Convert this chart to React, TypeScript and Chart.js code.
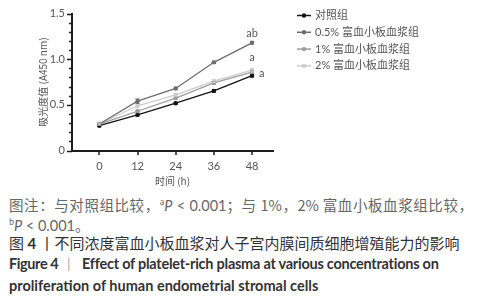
import React, { useEffect, useRef } from 'react';
import { Chart, registerables } from 'chart.js';

Chart.register(...registerables);

const HOURS = [0, 12, 24, 36, 48];
const SERIES_NAMES = ['对照组', '0.5% 富血小板血浆组', '1% 富血小板血浆组', '2% 富血小板血浆组'];
const CONTROL = [0.272, 0.39, 0.518, 0.653, 0.82];
const PRP_05 = [0.29, 0.54, 0.68, 0.966, 1.18];
const PRP_1 = [0.29, 0.43, 0.574, 0.74, 0.86];
const PRP_2 = [0.29, 0.49, 0.61, 0.76, 0.88];
const ERR_CONTROL = [0.01, 0.01, 0.012, 0.015, 0.015];
const ERR_05 = [0.01, 0.025, 0.012, 0.012, 0.012];
const ERR_1 = [0.01, 0.015, 0.012, 0.015, 0.015];
const ERR_2 = [0.01, 0.015, 0.015, 0.015, 0.02];
const SERIES_COLORS = ['#141414', '#6e6e6e', '#9c9c9c', '#cdcdcd'];
const Y_TICKS = [0, 0.5, 1.0, 1.5];
const SIG_LABELS = [
  { series: 1, text: 'ab', side: 'above' },
  { series: 3, text: 'a', side: 'above' },
  { series: 0, text: 'a', side: 'right' },
];

const ALL_VALUES = [CONTROL, PRP_05, PRP_1, PRP_2];
const ALL_ERRORS = [ERR_CONTROL, ERR_05, ERR_1, ERR_2];

const TEXT_GRAY = '#555';
const AXIS_COLOR = '#1e1e1e';
const FONT = 'Lato, "Noto Sans CJK SC", sans-serif';
const CJK_FONT = '"Noto Sans CJK SC", sans-serif';

const decorPlugin = {
  id: 'decor',
  afterDatasetsDraw(chart: any) {
    const ctx = chart.ctx;
    const x = chart.scales.x;
    const y = chart.scales.y;
    const area = chart.chartArea;
    ctx.save();
    // error bars
    chart.data.datasets.forEach((ds: any, di: number) => {
      const meta = chart.getDatasetMeta(di);
      const errs = ALL_ERRORS[di];
      meta.data.forEach((pt: any, i: number) => {
        const v = ds.data[i].y;
        const e = errs[i];
        const px = pt.x;
        const y1 = y.getPixelForValue(v + e);
        const y2 = y.getPixelForValue(v - e);
        ctx.strokeStyle = ds.borderColor;
        ctx.lineWidth = 1;
        ctx.beginPath();
        ctx.moveTo(px, y1);
        ctx.lineTo(px, y2);
        ctx.moveTo(px - 2, y1);
        ctx.lineTo(px + 2, y1);
        ctx.moveTo(px - 2, y2);
        ctx.lineTo(px + 2, y2);
        ctx.stroke();
      });
    });
    // axis ticks
    ctx.strokeStyle = AXIS_COLOR;
    ctx.lineWidth = 1.5;
    for (let k = 0; k <= 15; k++) {
      const v = k / 10;
      const py = Math.round(y.getPixelForValue(v)) + 0.5;
      const len = k % 5 === 0 ? 5 : 3;
      ctx.beginPath();
      ctx.moveTo(area.left - len, py);
      ctx.lineTo(area.left, py);
      ctx.stroke();
    }
    HOURS.forEach((h) => {
      const px = Math.round(x.getPixelForValue(h));
      ctx.beginPath();
      ctx.moveTo(px, area.bottom);
      ctx.lineTo(px, area.bottom + 4.5);
      ctx.stroke();
    });
    // significance labels
    ctx.fillStyle = TEXT_GRAY;
    ctx.font = '11px ' + FONT;
    SIG_LABELS.forEach((s) => {
      const meta = chart.getDatasetMeta(s.series);
      const pt = meta.data[meta.data.length - 1];
      if (s.side === 'above') {
        ctx.textAlign = 'center';
        ctx.textBaseline = 'middle';
        ctx.fillText(s.text, pt.x, pt.y - (s.series === 1 ? 9 : 12.5));
      } else {
        ctx.textAlign = 'left';
        ctx.textBaseline = 'middle';
        ctx.fillText(s.text, pt.x + 7, pt.y - 2);
      }
    });
    // legend
    const lx = 297;
    const rowY0 = 15.5;
    const step = 16.8;
    chart.data.datasets.forEach((ds: any, di: number) => {
      const ry = rowY0 + di * step;
      ctx.strokeStyle = ds.borderColor;
      ctx.fillStyle = ds.borderColor;
      ctx.lineWidth = 1.5;
      ctx.beginPath();
      ctx.moveTo(lx, ry);
      ctx.lineTo(lx + 14, ry);
      ctx.stroke();
      ctx.beginPath();
      ctx.arc(lx + 7, ry, 2.2, 0, Math.PI * 2);
      ctx.fill();
      ctx.fillStyle = TEXT_GRAY;
      ctx.font = '11px ' + FONT;
      ctx.textAlign = 'left';
      ctx.textBaseline = 'middle';
      ctx.fillText(ds.label, lx + 18, ry);
    });
    ctx.restore();
  },
};

function ChartView() {
  const ref = useRef<HTMLCanvasElement>(null);
  useEffect(() => {
    const datasets = ALL_VALUES.map((vals, di) => ({
      label: SERIES_NAMES[di],
      data: HOURS.map((h, i) => ({ x: h, y: vals[i] })),
      borderColor: SERIES_COLORS[di],
      backgroundColor: SERIES_COLORS[di],
      borderWidth: 1.3,
      pointRadius: 2.2,
      pointHoverRadius: 2.2,
      pointBorderWidth: 0,
      tension: 0,
      order: di,
    }));
    const chart = new Chart(ref.current as HTMLCanvasElement, {
      type: 'line',
      data: { datasets: datasets as any },
      options: {
        animation: false,
        responsive: false,
        devicePixelRatio: 1,
        layout: { padding: { left: 0, top: 10, right: 216, bottom: 0 } },
        plugins: { legend: { display: false }, tooltip: { enabled: false } },
        scales: {
          x: {
            type: 'linear',
            min: -8.6,
            max: 54.6,
            afterBuildTicks: (s: any) => {
              s.ticks = HOURS.map((h) => ({ value: h }));
            },
            afterFit: (s: any) => {
              s.height = 39.5;
            },
            grid: { display: false, drawTicks: false, tickLength: 0 },
            border: { display: true, color: AXIS_COLOR, width: 2 },
            ticks: {
              color: TEXT_GRAY,
              font: { family: FONT, size: 11 },
              padding: 9,
              maxRotation: 0,
              callback: (v: any) => String(v),
            },
            title: {
              display: true,
              text: '时间 (h)',
              color: TEXT_GRAY,
              font: { family: CJK_FONT, size: 10 },
              padding: { top: 0, bottom: 3 },
            },
          },
          y: {
            type: 'linear',
            min: 0,
            max: 1.5,
            afterBuildTicks: (s: any) => {
              s.ticks = Y_TICKS.map((v) => ({ value: v }));
            },
            afterFit: (s: any) => {
              s.width = 72;
            },
            grid: { display: false, drawTicks: false, tickLength: 0 },
            border: { display: true, color: AXIS_COLOR, width: 2 },
            ticks: {
              color: TEXT_GRAY,
              font: { family: FONT, size: 11 },
              padding: 7,
              callback: (v: any) => (v === 0 ? '0' : Number(v).toFixed(1)),
            },
            title: {
              display: true,
              text: '吸光度值 (A450 nm)',
              color: TEXT_GRAY,
              font: { family: CJK_FONT, size: 10 },
              padding: { top: 37, bottom: 0 },
            },
          },
        },
      },
      plugins: [decorPlugin],
    });
    return () => chart.destroy();
  }, []);
  return <canvas ref={ref} width={489} height={190} style={{ display: 'block' }} />;
}

const lineBase: React.CSSProperties = {
  position: 'absolute',
  left: 9,
  height: 20,
  lineHeight: '20px',
  whiteSpace: 'nowrap',
};

export default function App() {
  useEffect(() => {
    document.body.style.margin = '0';
  }, []);
  return (
    <div style={{ position: 'relative', width: 489, height: 300, background: '#fff', overflow: 'hidden' }}>
      <div style={{ position: 'absolute', left: 0, top: 0 }}>
        <ChartView />
      </div>
      <div
        style={{
          ...lineBase,
          top: 192,
          width: 464,
          fontFamily: CJK_FONT,
          fontSize: 14.5,
          color: '#666',
          whiteSpace: 'normal',
          textAlign: 'justify',
          textAlignLast: 'justify',
        }}
      >
        图注：与对照组比较，<sup style={{ fontSize: 8 }}>a</sup>
        <i style={{ fontFamily: FONT }}>P</i>
        <span style={{ fontFamily: FONT }}> &lt; 0.001</span>；与 1%，2% 富血小板血浆组比较，
      </div>
      <div style={{ ...lineBase, top: 212, fontFamily: CJK_FONT, fontSize: 14.5, color: '#666' }}>
        <sup style={{ fontSize: 8 }}>b</sup>
        <i style={{ fontFamily: FONT }}>P</i>
        <span style={{ fontFamily: FONT }}> &lt; 0.001</span>。
      </div>
      <div style={{ ...lineBase, top: 233, fontFamily: CJK_FONT, fontSize: 15, color: '#333' }}>
        图 <b style={{ fontFamily: FONT }}>4</b> 丨不同浓度富血小板血浆对人子宫内膜间质细胞增殖能力的影响
      </div>
      <div
        style={{
          ...lineBase,
          top: 254,
          fontFamily: FONT,
          fontSize: 14.5,
          fontWeight: 700,
          color: '#333',
          letterSpacing: '-0.4px',
        }}
      >
        Figure 4
      </div>
      <div style={{ ...lineBase, top: 254, left: 67, fontFamily: FONT, fontSize: 14, color: '#aaa' }}>|</div>
      <div
        style={{
          ...lineBase,
          top: 254,
          left: 82,
          fontFamily: FONT,
          fontSize: 14.5,
          fontWeight: 700,
          color: '#333',
          letterSpacing: '-0.25px',
        }}
      >
        Effect of platelet-rich plasma at various concentrations on
      </div>
      <div style={{ ...lineBase, top: 276, fontFamily: FONT, fontSize: 14.5, fontWeight: 700, color: '#333' }}>
        proliferation of human endometrial stromal cells
      </div>
    </div>
  );
}
